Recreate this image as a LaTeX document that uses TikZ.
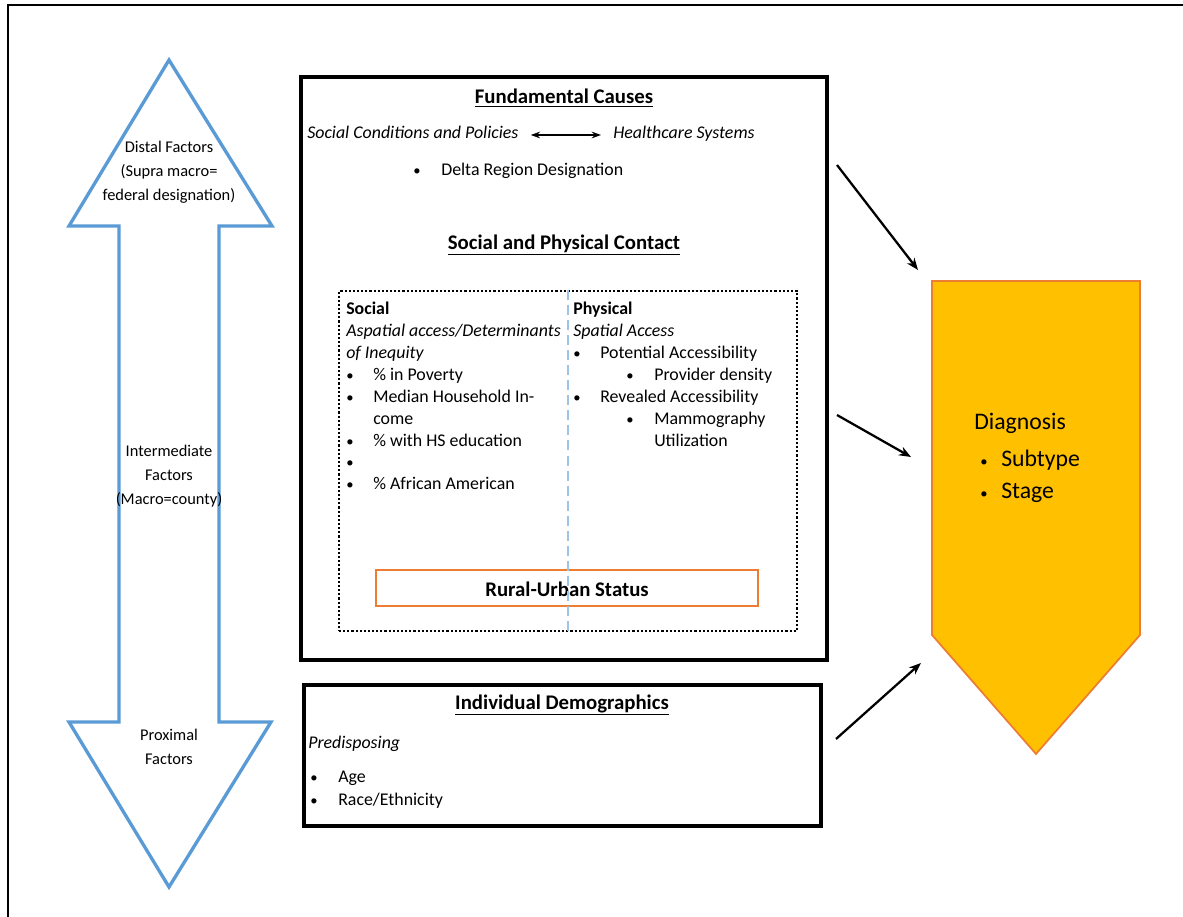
\documentclass[tikz,border=0pt]{standalone}
\usepackage{fontspec}
\setmainfont{Carlito}
\usetikzlibrary{fit,arrows.meta}
\definecolor{arrowblue}{HTML}{5B9BD5}
\definecolor{dashblue}{HTML}{9DC3E6}
\definecolor{orangeline}{HTML}{ED7D31}
\definecolor{gold}{HTML}{FFC000}
\tikzset{
  txt/.style={inner sep=0pt, yshift=-1.5pt, text height=0.72em, text depth=0.22em, font=\fontsize{13.4pt}{16pt}\selectfont},
  lt/.style={txt, anchor=west},
  it/.style={txt, anchor=west, font=\fontsize{13.4pt}{16pt}\selectfont\itshape},
  bt/.style={txt, anchor=west, font=\fontsize{13.4pt}{16pt}\selectfont\bfseries},
  bul/.style={txt, anchor=center, font=\fontsize{11pt}{13pt}\selectfont},
  head/.style={inner sep=0pt, anchor=center, yshift=-0.8pt, font=\fontsize{15.6pt}{18pt}\selectfont\bfseries},
  arrowlabel/.style={inner sep=0pt, anchor=center, align=center, font=\fontsize{12.3pt}{18pt}\selectfont},
  box/.style={draw=black, line width=2.3pt, inner sep=0pt},
  dotbox/.style={draw=black, line width=1.8pt, dash pattern=on 1.6pt off 1.5pt, inner sep=0pt},
  conn/.style={-{Stealth[length=9pt,width=7pt]}, line width=1.7pt},
  dtxt/.style={inner sep=0pt, yshift=-1.5pt, anchor=west, text height=0.72em, text depth=0.22em, font=\fontsize{17.8pt}{21pt}\selectfont},
}
\begin{document}
\begin{tikzpicture}[x=0.75pt,y=-0.75pt]
\useasboundingbox (0,0) rectangle (1183,917);
% outer frame (left and top edges visible)
\draw[line width=2.2pt] (8,917) -- (8,5) -- (1183,5);

% double-headed vertical arrow
\draw[arrowblue, line width=2.5pt, line join=miter, fill=white]
  (169,60) -- (272,226) -- (219,226) -- (219,722) -- (271,722) -- (169,887)
  -- (69,722) -- (119,722) -- (119,226) -- (69,226) -- cycle;
\node[arrowlabel] (distal) at (169,172) {Distal Factors\\(Supra macro=\\federal designation)};
\node[arrowlabel] (inter) at (169,476) {Intermediate\\Factors\\(Macro=county)};
\node[arrowlabel] (prox) at (169,747) {Proximal\\Factors};

% Fundamental causes box
\node[box, fit={(301,77)(827,660)}] (fund) {};
\node[head] (fc) at (564,97) {\underline{Fundamental Causes}};
\node[it] (scp) at (307,133) {Social Conditions and Policies};
\node[it] (hs) at (613,133) {Healthcare Systems};
\draw[{Stealth[length=7pt,width=5pt]}-{Stealth[length=7pt,width=5pt]}, line width=1.5pt, shorten <=9pt, shorten >=9pt] (scp.east) -- (hs.west);
\node[bul] (b0) at (417,170) {•};
\node[lt] (delta) at (441,170) {Delta Region Designation};
\node[head] (spc) at (564,244) {\underline{Social and Physical Contact}};

% dotted inner box
\node[dotbox, fit={(339,291)(797,631)}] (dot) {};
\node[draw=orangeline, line width=2.2pt, inner sep=0pt, fit={(376,570)(758,606)}] (rural) {};
\node[head] (ruraltxt) at (rural.center) {Rural-Urban Status};
\draw[dashblue, line width=1.9pt, dash pattern=on 7.5pt off 3.8pt] (dot.north) -- (dot.south);

% social column
\node[bt] (soc) at (346,309) {Social};
\node[it] (asp) at (346,331) {Aspatial access/Determinants};
\node[it] (ineq) at (346,353) {of Inequity};
\node[bul] (s1) at (350,375) {•};
\node[lt] (s1t) at (373,375) {\% in Poverty};
\node[bul] (s2) at (350,397) {•};
\node[lt] (s2t) at (373,397) {Median Household In-};
\node[lt] (s2u) at (373,419) {come};
\node[bul] (s3) at (350,441) {•};
\node[lt] (s3t) at (373,441) {\% with HS education};
\node[bul] (s4) at (350,462) {•};
\node[bul] (s5) at (350,484) {•};
\node[lt] (s5t) at (373,484) {\% African American};

% physical column
\node[bt] (phy) at (573,309) {Physical};
\node[it] (spa) at (573,331) {Spatial Access};
\node[bul] (p1) at (577,353) {•};
\node[lt] (p1t) at (600,353) {Potential Accessibility};
\node[bul] (p2) at (630,375) {•};
\node[lt] (p2t) at (654,375) {Provider density};
\node[bul] (p3) at (577,397) {•};
\node[lt] (p3t) at (600,397) {Revealed Accessibility};
\node[bul] (p4) at (630,419) {•};
\node[lt] (p4t) at (654,419) {Mammography};
\node[lt] (p4u) at (654,441) {Utilization};

% Individual demographics box
\node[box, fit={(304,685)(821,826)}] (indiv) {};
\node[head] (idt) at (562,704) {\underline{Individual Demographics}};
\node[it] (pred) at (308,743) {Predisposing};
\node[bul] (i1) at (314,777) {•};
\node[lt] (i1t) at (338,777) {Age};
\node[bul] (i2) at (314,800) {•};
\node[lt] (i2t) at (338,800) {Race/Ethnicity};

% Diagnosis pentagon
\draw[fill=gold, draw=orangeline, line width=1.3pt, line join=miter]
  (932,281) -- (1140,281) -- (1140,635) -- (1036,754) -- (932,635) -- cycle;
\node[dtxt] (diag) at (974,424) {Diagnosis};
\node[bul, anchor=center] (d1) at (984,461) {•};
\node[dtxt] (d1t) at (1001,461) {Subtype};
\node[bul, anchor=center] (d2) at (984,493) {•};
\node[dtxt] (d2t) at (1001,493) {Stage};

% connectors
\coordinate (a1s) at (837,165); \coordinate (a1e) at (918,270);
\coordinate (a2s) at (837,415); \coordinate (a2e) at (911,457);
\coordinate (a3s) at (836,739); \coordinate (a3e) at (921,663);
\draw[conn] (a1s) -- (a1e);
\draw[conn] (a2s) -- (a2e);
\draw[conn] (a3s) -- (a3e);
\end{tikzpicture}
\end{document}
